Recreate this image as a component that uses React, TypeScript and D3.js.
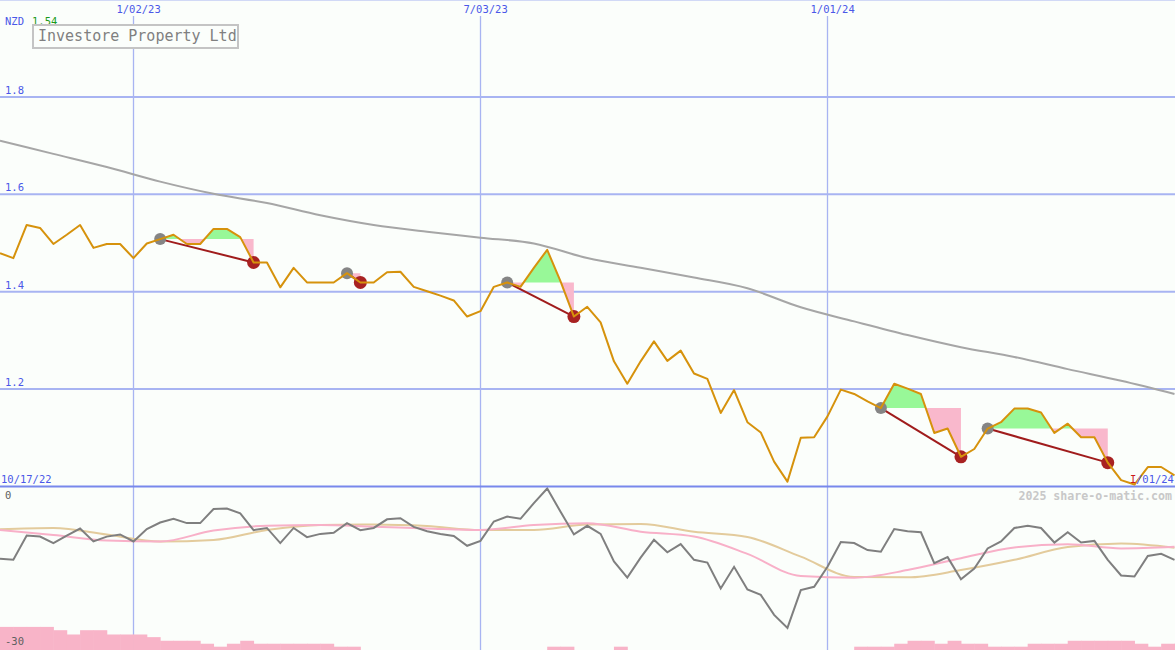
import React from 'react';
import * as d3 from 'd3';

const W = 1175;
const H = 650;

// Closing prices (NZD), one per period
const prices = [
  1.479, 1.469, 1.537, 1.531, 1.498, 1.517, 1.537, 1.490, 1.498, 1.498,
  1.469, 1.499, 1.508, 1.517, 1.498, 1.498, 1.529, 1.529, 1.512, 1.460,
  1.460, 1.409, 1.449, 1.419, 1.419, 1.419, 1.438, 1.419, 1.419, 1.440,
  1.441, 1.410, 1.401, 1.392, 1.382, 1.349, 1.360, 1.410, 1.419, 1.410,
  1.449, 1.486, 1.421, 1.349, 1.369, 1.337, 1.257, 1.211, 1.257, 1.298,
  1.258, 1.279, 1.232, 1.221, 1.151, 1.198, 1.132, 1.111, 1.051, 1.010,
  1.100, 1.101, 1.144, 1.199, 1.190, 1.175, 1.161, 1.211, 1.201, 1.190,
  1.110, 1.119, 1.061, 1.077, 1.119, 1.132, 1.160, 1.160, 1.152, 1.110,
  1.129, 1.101, 1.101, 1.049, 1.013, 1.004, 1.040, 1.040, 1.023,
];

// Long moving average (sampled every 4 periods)
const maIdx = [0, 4, 8, 12, 16, 20, 24, 28, 32, 36, 40, 44, 48, 52, 56, 60, 64, 68, 72, 76, 80, 84, 88];
const maVals = [
  1.710, 1.683, 1.656, 1.626, 1.601, 1.582, 1.557, 1.537, 1.523, 1.511, 1.499, 1.469,
  1.449, 1.429, 1.407, 1.368, 1.339, 1.311, 1.286, 1.266, 1.241, 1.217, 1.190,
];

// Oscillator (lower panel)
const osc = [
  -13.1, -13.3, -8.8, -9.0, -10.2, -8.8, -7.5, -9.9, -9.0, -8.6,
  -9.9, -7.6, -6.4, -5.7, -6.5, -6.5, -3.9, -3.8, -4.7, -7.8,
  -7.4, -10.2, -7.4, -9.1, -8.5, -8.3, -6.5, -7.8, -7.4, -5.8,
  -5.6, -7.2, -8.0, -8.5, -8.9, -10.7, -9.8, -6.2, -5.3, -5.7,
  -2.8, -0.1, -4.4, -8.6, -7.0, -8.5, -13.6, -16.6, -12.9, -9.6,
  -11.9, -10.4, -13.3, -13.8, -18.6, -14.6, -18.8, -19.8, -23.5, -25.9,
  -18.9, -18.3, -14.6, -10.0, -10.2, -11.5, -11.8, -7.6, -8.0, -8.2,
  -13.9, -12.8, -16.9, -14.9, -11.2, -9.9, -7.4, -7.0, -7.4, -10.1,
  -8.2, -10.1, -9.8, -13.3, -16.2, -16.4, -12.6, -12.2, -13.3,
];
const oscPink = [
  -7.78, -8.70, -9.72, -9.91, -7.87, -6.98, -6.85, -7.17, -7.50, -7.78, -6.85, -6.52,
  -8.09, -8.98, -12.2, -16.3, -16.6, -15.2, -13.0, -11.0, -10.4, -11.2, -10.9,
];
const oscTan = [
  -7.65, -7.41, -8.61, -9.91, -9.63, -7.78, -6.85, -6.76, -7.04, -7.78, -7.78, -6.76,
  -6.67, -8.09, -9.07, -12.72, -16.48, -16.54, -15.19, -13.3, -10.93, -10.28, -11.06,
];

// Histogram (lower panel)
const volume = [
  7, 7, 7, 7, 6, 4.7, 6, 6, 4.7, 4.7,
  4.7, 3.9, 2.8, 2.8, 2.8, 1.9, 1, 1.9, 2.8, 1.9,
  1.9, 1.9, 1.9, 1.9, 1.9, 1, 1, 0, 0, 0,
  0, 0, 0, 0, 0, 0, 0, 0, 0, 0,
  0, 1, 1, 0, 0, 0, 1, 0, 0, 0,
  0, 0, 0, 0, 0, 0, 0, 0, 0, 0,
  0, 0, 0, 0, 1, 1, 1, 1.9, 2.8, 2.8,
  1.9, 2.8, 1.9, 1.9, 1, 1, 1, 1.9, 1.9, 1.9,
  2.8, 2.8, 2.8, 2.8, 2.8, 1.9, 1, 1.9, 1.9,
];

const tradeEntry = [12, 26, 38, 66, 74];
const tradeExit = [19, 27, 43, 72, 83];

const priceTicks = [1.2, 1.4, 1.6, 1.8, 2.0];
const priceTickLabels = ['1.2', '1.4', '1.6', '1.8', ''];
const dateTickIdx = [10, 36, 62];
const dateTickLabels = ['1/02/23', '7/03/23', '1/01/24'];

const FONT = '"DejaVu Sans Mono", "Liberation Mono", monospace';
const BLUE_TXT = '#4a58e8';
const GRID = '#a8b4f2';

export default function App() {
  const x = d3.scaleLinear().domain([0, 88]).range([0, 1174.5]);
  const y = d3.scaleLinear().domain([1.0, 2.0]).range([486.5, -0.5]);
  const yo = d3.scaleLinear().domain([-30, 0]).range([650, 488]);
  const yv = d3.scaleLinear().domain([0, 10]).range([650, 617]);

  const priceLine = d3.line<number>().x((_, i) => x(i)).y((d) => y(d))(prices) || '';
  const maLine = d3.line<number>().x((_, i) => x(maIdx[i])).y((d) => y(d)).curve(d3.curveMonotoneX)(maVals) || '';
  const oscLine = d3.line<number>().x((_, i) => x(i)).y((d) => yo(d))(osc) || '';
  const pinkLine = d3.line<number>().x((_, i) => x(maIdx[i])).y((d) => yo(d)).curve(d3.curveMonotoneX)(oscPink) || '';
  const tanLine = d3.line<number>().x((_, i) => x(maIdx[i])).y((d) => yo(d)).curve(d3.curveMonotoneX)(oscTan) || '';

  const trades = tradeEntry.map((e, k) => {
    const ex = tradeExit[k];
    const level = prices[e];
    const pts: [number, number][] = [];
    for (let i = e; i <= ex; i++) {
      if (i > e) {
        const a = prices[i - 1] - level;
        const b = prices[i] - level;
        if (a * b < 0) {
          const t = a / (a - b);
          pts.push([i - 1 + t, level]);
        }
      }
      pts.push([i, prices[i]]);
    }
    const green = d3.area<[number, number]>()
      .x((d) => x(d[0]))
      .y0(y(level))
      .y1((d) => y(Math.max(d[1], level)))(pts) || '';
    const pink = d3.area<[number, number]>()
      .x((d) => x(d[0]))
      .y0(y(level))
      .y1((d) => y(Math.min(d[1], level)))(pts) || '';
    return { e, ex, green, pink };
  });

  return (
    <div>
      <style>{`body{margin:0;}`}</style>
      <svg width={W} height={H} style={{ display: 'block' }}>
        <rect x={0} y={0} width={W} height={H} fill="#fbfefb" />

        {/* horizontal grid */}
        {priceTicks.map((t) => (
          <line key={t} x1={0} x2={W} y1={y(t)} y2={y(t)} stroke={GRID} strokeWidth={2} />
        ))}
        {/* vertical grid */}
        {dateTickIdx.map((d) => (
          <line key={d} x1={Math.round(x(d)) + 0.5} x2={Math.round(x(d)) + 0.5} y1={16} y2={H} stroke={GRID} strokeWidth={1.3} />
        ))}

        {/* long moving average */}
        <path d={maLine} fill="none" stroke="#a6a6a6" strokeWidth={2} />

        {/* trade fills */}
        {trades.map((t, k) => (
          <g key={k}>
            <path d={t.green} fill="#98f898" />
            <path d={t.pink} fill="#f9b8cc" />
          </g>
        ))}
        {trades.map((t, k) => (
          <line key={k} x1={x(t.e)} y1={y(prices[t.e])} x2={x(t.ex)} y2={y(prices[t.ex])} stroke="#a01c1c" strokeWidth={2} />
        ))}
        {trades.map((t, k) => (
          <g key={k}>
            <circle cx={x(t.e)} cy={y(prices[t.e])} r={6} fill="#858585" />
            <circle cx={x(t.ex)} cy={y(prices[t.ex])} r={6.5} fill="#a82222" />
          </g>
        ))}

        {/* lower panel */}
        {volume.map((v, i) => (
          v > 0 ? (
            <rect key={i} x={x(i)} y={yv(v)} width={x(i + 1) - x(i) + 0.5} height={yv(0) - yv(v)} fill="#f8b4c8" />
          ) : null
        ))}
        <path d={tanLine} fill="none" stroke="#e3cb9c" strokeWidth={2} />
        <path d={pinkLine} fill="none" stroke="#f8b0c8" strokeWidth={2} />
        <path d={oscLine} fill="none" stroke="#7f7f7f" strokeWidth={2} />

        {/* panel divider */}
        <line x1={0} x2={W} y1={486.5} y2={486.5} stroke="#7888ec" strokeWidth={2.2} />

        {/* price line */}
        <path d={priceLine} fill="none" stroke="#d6920c" strokeWidth={2} strokeLinejoin="round" />

        {/* labels */}
        {priceTicks.map((t, i) => (
          <text key={t} x={5} y={y(t) - 3} fontFamily={FONT} fontSize={10.5} fill={BLUE_TXT}>{priceTickLabels[i]}</text>
        ))}
        {dateTickIdx.map((d, i) => (
          <text key={d} x={x(d) - 17} y={13} fontFamily={FONT} fontSize={10.5} fill={BLUE_TXT}>{dateTickLabels[i]}</text>
        ))}
        <text x={5} y={25} fontFamily={FONT} fontSize={10.5} fill={BLUE_TXT}>NZD</text>
        <text x={32} y={25} fontFamily={FONT} fontSize={10.5} fill="#1a9a1a">1.54</text>

        <rect x={33} y={25} width={205} height={23} fill="#fbfefb" stroke="#c4c4c4" strokeWidth={2} />
        <text x={38} y={41} fontFamily={FONT} fontSize={15} fill="#808080">Investore Property Ltd</text>

        <text x={1} y={483} fontFamily={FONT} fontSize={10.5} fill={BLUE_TXT}>10/17/22</text>
        <text x={1136} y={483} fontFamily={FONT} fontSize={10.5} fill={BLUE_TXT}>/01/24</text>
        <text x={1130} y={483} fontFamily={FONT} fontSize={10.5} fill="#cc1a1a">I</text>

        <text x={1172} y={500} textAnchor="end" fontFamily={FONT} fontSize={11.6} fontWeight="bold" fill="#c8c8c8">2025 share-o-matic.com</text>
        <text x={5} y={499} fontFamily={FONT} fontSize={10.5} fill="#606060">0</text>
        <text x={5} y={645} fontFamily={FONT} fontSize={10.5} fill="#606060">-30</text>
      </svg>
    </div>
  );
}
